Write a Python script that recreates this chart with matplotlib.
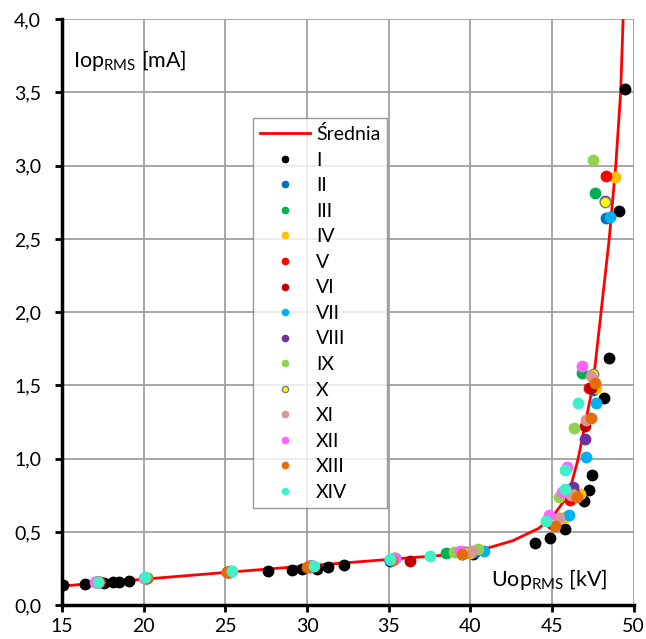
import numpy as np
import matplotlib
matplotlib.use("Agg")
import matplotlib.pyplot as plt
from matplotlib.ticker import FuncFormatter

plt.rcParams['font.family'] = ['Lato', 'DejaVu Sans']

# average curve (Średnia)
avg_u = [15, 20, 25, 30, 35, 40, 42.6, 44.2, 45.2, 46.0, 46.6, 47.5, 48.0, 48.5, 48.9, 49.2, 49.35]
avg_i = [0.13, 0.177, 0.223, 0.268, 0.312, 0.355, 0.44, 0.525, 0.63, 0.75, 1.0, 1.5, 2.0, 2.5, 3.0, 3.5, 4.0]

names = ['I', 'II', 'III', 'IV', 'V', 'VI', 'VII', 'VIII', 'IX', 'X', 'XI', 'XII', 'XIII', 'XIV']
colors = ['#000000', '#0070C0', '#00B050', '#FFC000', '#FF0000', '#C00000', '#00B0F0',
          '#7030A0', '#92D050', '#FFFF00', '#D99694', '#FF66FF', '#E46C0A', '#40F0C8']

u_I = [15.08, 16.4, 17.6, 18.1, 18.5, 19.1, 27.6, 29.1, 29.67, 30.6, 31.3, 32.25, 35.1, 40.17,
       43.94, 44.9, 45.78, 46.94, 47.25, 47.47, 48.16, 48.49, 49.1, 49.45]
i_I = [0.137, 0.143, 0.148, 0.155, 0.155, 0.166, 0.234, 0.243, 0.25, 0.25, 0.261, 0.273, 0.30, 0.348,
       0.421, 0.455, 0.517, 0.71, 0.785, 0.887, 1.415, 1.69, 2.69, 3.52]
u_II = [17.2, 20.1, 25.2, 30.2, 35.1, 40.3, 45.0, 46.3, 47.5, 48.33]
i_II = [0.16, 0.185, 0.225, 0.265, 0.31, 0.36, 0.57, 0.78, 1.47, 2.64]
u_III = [17.2, 20.1, 25.2, 30.3, 35.4, 38.5, 45.0, 46.1, 46.84, 47.6]
i_III = [0.16, 0.185, 0.225, 0.27, 0.325, 0.353, 0.58, 0.78, 1.586, 2.815]
u_IV = [17.2, 20.1, 25.1, 30.2, 35.2, 39.97, 45.8, 46.7, 47.72, 48.84]
i_IV = [0.16, 0.185, 0.225, 0.265, 0.31, 0.353, 0.6, 0.758, 1.479, 2.92]
u_V = [17.2, 20.1, 25.1, 30.1, 35.2, 39.5, 45.1, 46.08, 47.27, 48.33]
i_V = [0.16, 0.185, 0.225, 0.265, 0.31, 0.355, 0.56, 0.717, 1.479, 2.93]
u_VI = [17.3, 20.2, 25.2, 30.2, 36.33, 39.5, 45.0, 46.3, 47.0, 47.4]
i_VI = [0.16, 0.185, 0.225, 0.26, 0.302, 0.35, 0.555, 0.78, 1.222, 1.48]
u_VII = [17.2, 20.1, 25.3, 30.3, 35.1, 40.82, 46.04, 47.06, 47.72, 48.57]
i_VII = [0.16, 0.185, 0.23, 0.27, 0.31, 0.369, 0.614, 1.008, 1.377, 2.65]
u_VIII = [17.1, 20.1, 25.2, 30.2, 35.3, 39.6, 45.3, 46.29, 47.0, 48.27]
i_VIII = [0.16, 0.185, 0.225, 0.265, 0.315, 0.36, 0.59, 0.808, 1.131, 2.76]
u_IX = [17.2, 20.1, 25.2, 30.2, 35.3, 39.0, 40.47, 44.66, 45.43, 46.35, 47.5]
i_IX = [0.16, 0.185, 0.225, 0.265, 0.32, 0.36, 0.38, 0.575, 0.739, 1.206, 3.04]
u_X = [17.2, 20.1, 25.2, 30.2, 35.2, 39.8, 45.2, 46.3, 47.51, 48.27]
i_X = [0.16, 0.185, 0.225, 0.265, 0.31, 0.36, 0.58, 0.76, 1.58, 2.753]
u_XI = [17.2, 20.1, 25.2, 30.3, 35.3, 40.07, 45.43, 46.19, 47.1, 47.41]
i_XI = [0.16, 0.185, 0.225, 0.27, 0.315, 0.369, 0.592, 0.751, 1.263, 1.563]
u_XII = [17.0, 20.0, 25.2, 30.2, 35.4, 39.35, 44.82, 45.58, 45.92, 46.84]
i_XII = [0.16, 0.185, 0.225, 0.27, 0.32, 0.371, 0.614, 0.773, 0.944, 1.63]
u_XIII = [17.2, 20.2, 25.08, 30.0, 35.2, 39.46, 45.17, 46.5, 47.41, 47.6]
i_XIII = [0.16, 0.185, 0.223, 0.26, 0.305, 0.348, 0.539, 0.739, 1.279, 1.513]
u_XIV = [17.2, 20.08, 25.38, 30.4, 35.1, 37.5, 44.66, 45.78, 45.78, 46.6]
i_XIV = [0.155, 0.189, 0.234, 0.27, 0.315, 0.334, 0.575, 0.79, 0.921, 1.377]

us = [u_I, u_II, u_III, u_IV, u_V, u_VI, u_VII, u_VIII, u_IX, u_X, u_XI, u_XII, u_XIII, u_XIV]
iss = [i_I, i_II, i_III, i_IV, i_V, i_VI, i_VII, i_VIII, i_IX, i_X, i_XI, i_XII, i_XIII, i_XIV]

fig = plt.figure(figsize=(6.46, 6.39), dpi=100)
ax = fig.add_axes([0.096, 0.053, 0.885, 0.917])

ax.plot(avg_u, avg_i, color='#FF0000', lw=2, label='Średnia', zorder=3)
for k in range(len(names)):
    edge = '#7F7F7F' if names[k] == 'X' else colors[k]
    ax.plot(us[k], iss[k], 'o', ms=7.5, color=colors[k], mec=edge, mew=1.0,
            label=names[k], zorder=4)

ax.set_xlim(15, 50)
ax.set_ylim(0, 4)
ax.set_xticks(np.arange(15, 51, 5))
ax.set_yticks(np.arange(0, 4.01, 0.5))
ax.yaxis.set_major_formatter(FuncFormatter(lambda v, p: ('%.1f' % v).replace('.', ',')))
ax.xaxis.set_major_formatter(FuncFormatter(lambda v, p: '%d' % v))
ax.grid(True, color='#A0A0A0', lw=1.3)
ax.set_axisbelow(True)
for s in ['top', 'right']:
    ax.spines[s].set_visible(False)
for s in ['left', 'bottom']:
    ax.spines[s].set_linewidth(2.5)
ax.tick_params(axis='both', labelsize=14, width=2, length=5, color='black')
ax.tick_params(axis='x', pad=4)
ax.tick_params(axis='y', pad=10)

ax.text(0.019, 0.93, 'Iop$_{\\mathregular{RMS}}$ [mA]', transform=ax.transAxes, fontsize=15.5, va='center')
ax.text(0.751, 0.044, 'Uop$_{\\mathregular{RMS}}$ [kV]', transform=ax.transAxes, fontsize=15.5, va='center')

leg = ax.legend(loc='upper left', bbox_to_anchor=(0.334, 0.831), borderaxespad=0, fontsize=14,
                frameon=True, fancybox=False, edgecolor='#808080', markerscale=0.6,
                handlelength=2.6, handletextpad=0.3, labelspacing=0.44, borderpad=0.35)
leg.get_frame().set_linewidth(1.0)

fig.savefig('out.png', dpi=100)
